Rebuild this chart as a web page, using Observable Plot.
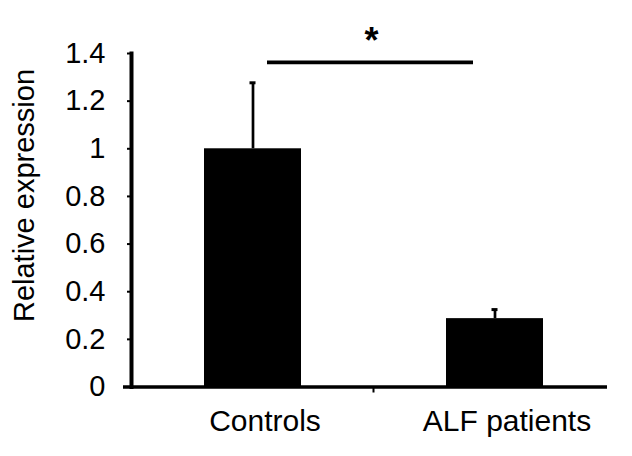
<!DOCTYPE html>
<html>
<head>
<meta charset="utf-8">
<script src="https://cdn.jsdelivr.net/npm/d3@7"></script>
<script src="https://cdn.jsdelivr.net/npm/@observablehq/plot@0.6"></script>
<style>
  html, body { margin: 0; padding: 0; background: #fff; }
</style>
</head>
<body>
<div id="chart"></div>
<script>
const categories = ["Controls", "ALF patients"];
const values = [1.0, 0.287];
const errors = [0.277, 0.038];
const yTicks = [0, 0.2, 0.4, 0.6, 0.8, 1.0, 1.2, 1.4];
const yLabel = "Relative expression";
const sigLevel = [1.363];
const sigLabel = ["*"];

const data = categories.map((c, i) => ({category: c, value: values[i], err: errors[i]}));

const chart = Plot.plot({
  width: 632,
  height: 456,
  marginLeft: 131,
  marginRight: 17,
  marginTop: 53,
  marginBottom: 69.5,
  style: {fontFamily: "'Liberation Sans', Arial, Helvetica, sans-serif", background: "#fff", color: "#000"},
  x: {domain: categories, paddingInner: 0.6, paddingOuter: 0.3, axis: null},
  y: {domain: [0, 1.4], axis: null},
  marks: [
    Plot.barY(data, {x: "category", y: "value", fill: "#000"}),
    Plot.ruleX(data, {x: "category", y1: "value", y2: d => d.value + d.err, stroke: "#000", strokeWidth: 2.7}),
    Plot.tickY(data, {x: "category", y: d => d.value + d.err, stroke: "#000", strokeWidth: 3, insetLeft: 45.5, insetRight: 45.5}),
    Plot.axisY({ticks: yTicks, tickFormat: d3.format("~g"), tickSize: 4, tickPadding: 22, fontSize: 29, strokeWidth: 2, label: null}),
    Plot.axisX({tickSize: 0, tickPadding: 23, fontSize: 30, dx: 12, label: null}),
    Plot.frame({anchor: "left", stroke: "#000", strokeWidth: 4}),
    Plot.ruleY([0], {stroke: "#000", strokeWidth: 3.3, insetLeft: -8, insetRight: 8}),
    Plot.ruleX([0], {x: null, y1: 0, y2: 0, insetBottom: -6, stroke: "#000", strokeWidth: 2}),
    Plot.ruleY(sigLevel, {x1: () => categories[0], x2: () => categories[1], y: d => d, stroke: "#000", strokeWidth: 3.8, insetLeft: 63, insetRight: 70}),
    Plot.text(sigLabel, {y: () => sigLevel[0], text: d => d, fontSize: 36, fontWeight: "bold", dy: -21, dx: -2, fill: "#000"}),
    Plot.text([yLabel], {frameAnchor: "left", text: d => d, rotate: -90, textAnchor: "middle", lineAnchor: "top", fontSize: 29, dx: -118.5, dy: -24.75, fill: "#000"})
  ]
});
document.getElementById("chart").appendChild(chart);
</script>
</body>
</html>
